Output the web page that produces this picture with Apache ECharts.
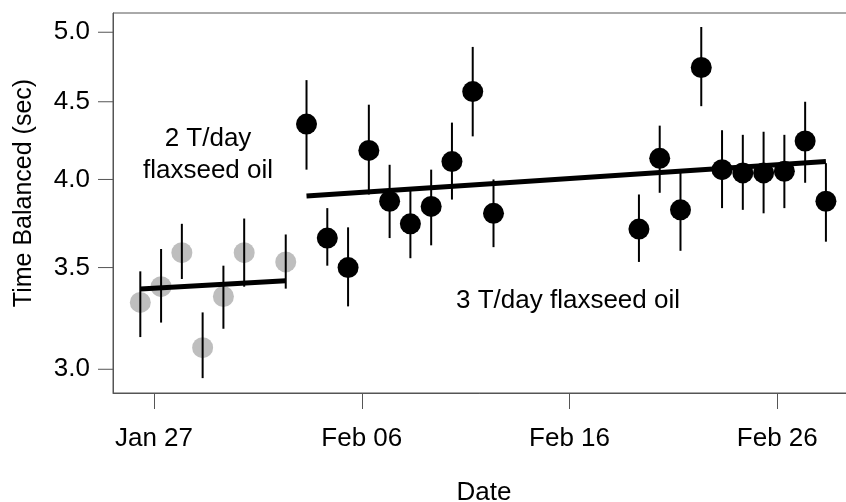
<!DOCTYPE html>
<html>
<head>
<meta charset="utf-8">
<script src="https://cdn.jsdelivr.net/npm/echarts@6/dist/echarts.min.js"></script>
<style>
  html, body { margin: 0; padding: 0; background: #fff; }
  #chart { width: 846px; height: 502px; }
</style>
</head>
<body>
<div id="chart"></div>
<script>
// Daily balance time (seconds, log scale) over two flaxseed oil dosage periods.

// 2 T/day period
const lowDoseDates = ['2015-01-26 08:10', '2015-01-27 08:10', '2015-01-28 08:10', '2015-01-29 08:10',
                      '2015-01-30 08:10', '2015-01-31 08:10', '2015-02-02 08:10'];
const lowDoseMean  = [3.32, 3.40, 3.58, 3.10, 3.35, 3.58, 3.53];
const lowDoseLow   = [3.15, 3.22, 3.44, 2.96, 3.19, 3.40, 3.39];
const lowDoseHigh  = [3.48, 3.60, 3.74, 3.27, 3.51, 3.77, 3.68];
const lowDoseFit   = [['2015-01-26 08:10', 3.388], ['2015-02-02 08:10', 3.431]];

// 3 T/day period
const highDoseDates = ['2015-02-03 08:10', '2015-02-04 08:10', '2015-02-05 08:10', '2015-02-06 08:10',
                       '2015-02-07 08:10', '2015-02-08 08:10', '2015-02-09 08:10', '2015-02-10 08:10',
                       '2015-02-11 08:10', '2015-02-12 08:10', '2015-02-19 08:10', '2015-02-20 08:10',
                       '2015-02-21 08:10', '2015-02-22 08:10', '2015-02-23 08:10', '2015-02-24 08:10',
                       '2015-02-25 08:10', '2015-02-26 08:10', '2015-02-27 08:10', '2015-02-28 08:10'];
const highDoseMean = [4.35, 3.66, 3.50, 4.18, 3.87, 3.74, 3.84, 4.11, 4.57, 3.80,
                      3.71, 4.13, 3.82, 4.74, 4.06, 4.04, 4.04, 4.05, 4.24, 3.87];
const highDoseLow  = [4.06, 3.51, 3.30, 3.91, 3.66, 3.55, 3.62, 3.88, 4.27, 3.61,
                      3.53, 3.92, 3.59, 4.47, 3.83, 3.82, 3.80, 3.83, 3.98, 3.64];
const highDoseHigh = [4.65, 3.83, 3.72, 4.48, 4.09, 3.94, 4.06, 4.36, 4.89, 4.00,
                      3.91, 4.34, 4.04, 5.04, 4.31, 4.28, 4.30, 4.28, 4.50, 4.10];
const highDoseFit  = [['2015-02-03 08:10', 3.901], ['2015-02-28 08:10', 4.110]];

// Axis ticks
const yTickValues = [3.0, 3.5, 4.0, 4.5, 5.0];
const xTickDates  = ['2015-01-27', '2015-02-06', '2015-02-16', '2015-02-26'];

const FONT = '"Liberation Sans", Arial, sans-serif';
const FONT_SIZE = 26;
const DAY = 86400000;
const xRef = echarts.time.parse('2015-01-27').getTime();
const xMin = xRef - 1.974 * DAY;
const xMax = xRef + 33.74 * DAY;
const yMin = 2.894;
const yMax = 5.148;

function errorBars(dates, lows, highs) {
  return {
    type: 'custom',
    z: 3,
    silent: true,
    data: dates.map((d, i) => [d, lows[i], highs[i]]),
    encode: { x: 0, y: [1, 2] },
    renderItem(params, api) {
      const a = api.coord([api.value(0), api.value(1)]);
      const b = api.coord([api.value(0), api.value(2)]);
      return {
        type: 'line',
        shape: { x1: a[0], y1: a[1], x2: b[0], y2: b[1] },
        style: { stroke: '#000', lineWidth: 2 }
      };
    }
  };
}

const chart = echarts.init(document.getElementById('chart'), null, { renderer: 'canvas' });

chart.setOption({
  animation: false,
  backgroundColor: '#fff',
  grid: {
    left: 113, top: 13, right: -9, bottom: 109,
    outerBoundsMode: 'none',
    containLabel: false,
    show: true, borderColor: '#555', borderWidth: 1, backgroundColor: 'transparent'
  },
  xAxis: {
    type: 'time',
    min: xMin,
    max: xMax,
    name: 'Date',
    nameLocation: 'middle',
    nameGap: 87,
    nameTextStyle: { fontFamily: FONT, fontSize: FONT_SIZE, color: '#000' },
    axisLine: { show: true, lineStyle: { color: '#555', width: 1 } },
    axisTick: { show: true, length: 16, inside: false, lineStyle: { color: '#555', width: 1 },
                customValues: xTickDates },
    axisLabel: {
      customValues: xTickDates,
      margin: 33,
      fontFamily: FONT, fontSize: FONT_SIZE, color: '#000',
      formatter: '{MMM} {dd}'
    },
    splitLine: { show: false },
    minorTick: { show: false }
  },
  yAxis: {
    type: 'log',
    min: yMin,
    max: yMax,
    axisLine: { show: true, lineStyle: { color: '#555', width: 1 } },
    axisTick: { show: false },
    axisLabel: { show: false },
    splitLine: { show: false },
    minorTick: { show: false }
  },
  graphic: [
    {
      type: 'text', x: 24, y: 193, rotation: Math.PI / 2,
      style: { text: 'Time Balanced (sec)', font: '25px ' + FONT, fill: '#000',
               align: 'center', verticalAlign: 'middle' }
    },
    {
      type: 'text', x: 208, y: 139,
      style: { text: '2 T/day', font: FONT_SIZE + 'px ' + FONT, fill: '#000',
               align: 'center', verticalAlign: 'middle' }
    },
    {
      type: 'text', x: 208, y: 171,
      style: { text: 'flaxseed oil', font: FONT_SIZE + 'px ' + FONT, fill: '#000',
               align: 'center', verticalAlign: 'middle' }
    },
    {
      type: 'text', x: 568, y: 301,
      style: { text: '3 T/day flaxseed oil', font: FONT_SIZE + 'px ' + FONT, fill: '#000',
               align: 'center', verticalAlign: 'middle' }
    }
  ],
  series: [
    {
      // y-axis tick marks and labels placed through the log scale
      type: 'custom',
      clip: false,
      silent: true,
      z: 1,
      data: yTickValues.map(v => [xMin, v]),
      encode: { x: 0, y: 1 },
      renderItem(params, api) {
        const v = api.value(1);
        const p = api.coord([api.value(0), v]);
        return {
          type: 'group',
          children: [
            { type: 'line', shape: { x1: p[0] - 15, y1: p[1], x2: p[0], y2: p[1] },
              style: { stroke: '#555', lineWidth: 1 } },
            { type: 'text', x: p[0] - 23, y: p[1],
              style: { text: v.toFixed(1), font: FONT_SIZE + 'px ' + FONT, fill: '#000',
                       align: 'right', verticalAlign: 'middle' } }
          ]
        };
      }
    },
    {
      name: '2 T/day',
      type: 'scatter',
      z: 2,
      symbol: 'circle',
      symbolSize: 21,
      itemStyle: { color: '#bebebe', opacity: 1 },
      data: lowDoseDates.map((d, i) => [d, lowDoseMean[i]])
    },
    errorBars(lowDoseDates, lowDoseLow, lowDoseHigh),
    {
      type: 'line', z: 4, showSymbol: false, silent: true,
      lineStyle: { color: '#000', width: 5 },
      data: lowDoseFit
    },
    errorBars(highDoseDates, highDoseLow, highDoseHigh),
    {
      type: 'line', z: 4, showSymbol: false, silent: true,
      lineStyle: { color: '#000', width: 5 },
      data: highDoseFit
    },
    {
      name: '3 T/day',
      type: 'scatter',
      z: 5,
      symbol: 'circle',
      symbolSize: 21,
      itemStyle: { color: '#000', opacity: 1 },
      data: highDoseDates.map((d, i) => [d, highDoseMean[i]])
    }
  ]
});
</script>
</body>
</html>
